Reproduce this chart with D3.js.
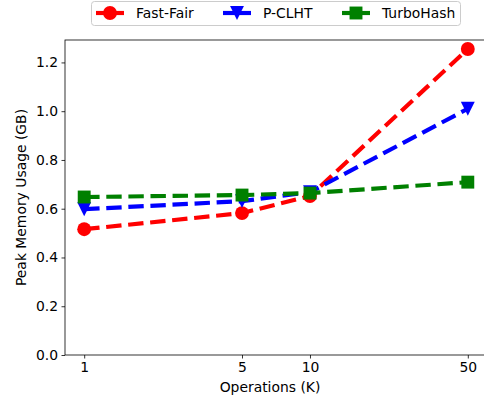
<!DOCTYPE html>
<html><head><meta charset="utf-8">
<script src="https://cdn.jsdelivr.net/npm/d3@7"></script>
<style>body{margin:0;background:#fff}svg{display:block;font-family:"DejaVu Sans",sans-serif}</style>
</head><body><svg id="c" width="484" height="402"></svg>
<script>
const ops = [1, 5, 10, 50];
const xTickLabels = ["1", "5", "10", "50"];
const yTicks = [0.0, 0.2, 0.4, 0.6, 0.8, 1.0, 1.2];
const seriesNames = ["Fast-Fair", "P-CLHT", "TurboHash"];
const fastFair = [0.516, 0.582, 0.652, 1.255];
const pclht = [0.598, 0.631, 0.668, 1.01];
const turboHash = [0.648, 0.656, 0.664, 0.709];
const colors = ["#ff0000", "#0000ff", "#008000"];
const markers = ["circle", "triangle", "square"];

const svg = d3.select("#c");
const L = 65, R = 487, T = 40, B = 355;
const x = d3.scaleLog().domain([Math.pow(10, -0.085), Math.pow(10, 1.784)]).range([L, R]);
const y = d3.scaleLinear().domain([0, 1.292]).range([B, T]);

// axes
const xa = svg.append("g").attr("transform", `translate(0,${B})`)
  .call(d3.axisBottom(x).tickValues(ops).tickFormat((d, i) => xTickLabels[i]).tickSize(3.5).tickPadding(3.5));
const ya = svg.append("g").attr("transform", `translate(${L},0)`)
  .call(d3.axisLeft(y).tickValues(yTicks).tickFormat(d3.format(".1f")).tickSize(3.5).tickPadding(3.5));
[xa, ya].forEach(a => {
  a.select(".domain").remove();
  a.selectAll("line").attr("stroke", "#000").attr("stroke-width", 0.8);
  a.selectAll("text").attr("font-size", 13.9).attr("fill", "#000").attr("font-family", "DejaVu Sans");
});
// spines
svg.append("rect").attr("x", L).attr("y", T).attr("width", R - L).attr("height", B - T)
  .attr("fill", "none").attr("stroke", "#000").attr("stroke-width", 0.8);

svg.append("text").attr("x", (L + R) / 2 - 6).attr("y", 392).attr("text-anchor", "middle")
  .attr("font-size", 13.9).text("Operations (K)");
svg.append("text").attr("transform", `translate(26,${(T + B) / 2}) rotate(-90)`).attr("text-anchor", "middle")
  .attr("font-size", 13.9).text("Peak Memory Usage (GB)");

const data = [fastFair, pclht, turboHash];
const line = d3.line().x((d, i) => x(ops[i])).y(d => y(d));
function drawMarker(sel, type, cx, cy, color, s) {
  if (type === "circle") sel.append("circle").attr("cx", cx).attr("cy", cy).attr("r", s / 2).attr("fill", color);
  else if (type === "square") sel.append("rect").attr("x", cx - s / 2 + 0.5).attr("y", cy - s / 2 + 0.5).attr("width", s - 1).attr("height", s - 1).attr("fill", color);
  else sel.append("path").attr("d", `M${cx - s / 2},${cy - s / 2}L${cx + s / 2},${cy - s / 2}L${cx},${cy + s / 2}Z`).attr("fill", color);
}
data.forEach((vals, k) => {
  const gg = svg.append("g");
  gg.append("path").attr("d", line(vals)).attr("fill", "none").attr("stroke", colors[k])
    .attr("stroke-width", 4.17).attr("stroke-dasharray", "15.4,6.7");
  vals.forEach((v, i) => drawMarker(gg, markers[k], x(ops[i]), y(v), colors[k], 13.9));
});

// legend
const lg = svg.append("g");
lg.append("rect").attr("x", 91.5).attr("y", 1.5).attr("width", 369).attr("height", 24).attr("rx", 3)
  .attr("fill", "#fff").attr("stroke", "#ccc").attr("stroke-width", 1);
const lx = [96, 223, 342];
seriesNames.forEach((n, k) => {
  const cy = 13;
  lg.append("line").attr("x1", lx[k]).attr("x2", lx[k] + 28).attr("y1", cy).attr("y2", cy)
    .attr("stroke", colors[k]).attr("stroke-width", 4.17);
  drawMarker(lg, markers[k], lx[k] + 14, cy, colors[k], 13.9);
  lg.append("text").attr("x", lx[k] + 40).attr("y", cy + 5).attr("font-size", 13.9).text(n);
});
</script></body></html>
